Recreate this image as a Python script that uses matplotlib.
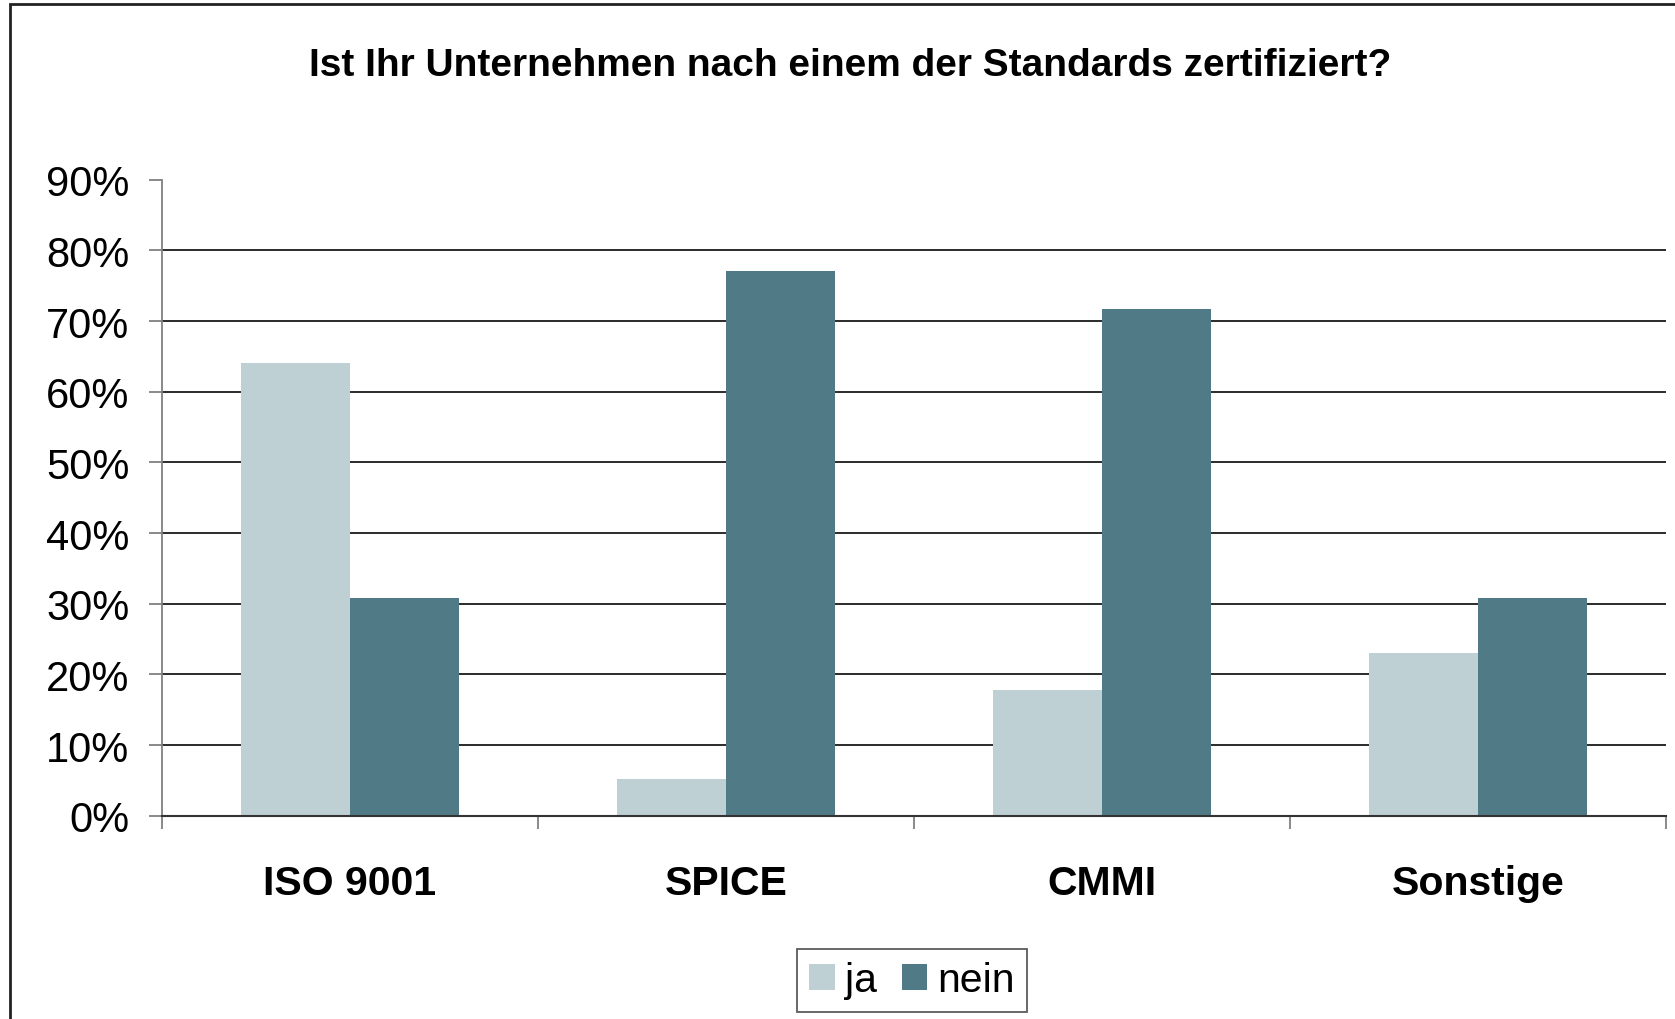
import matplotlib
matplotlib.use("Agg")
import matplotlib.pyplot as plt
from matplotlib.patches import Rectangle
import numpy as np

categories = ["ISO 9001", "SPICE", "CMMI", "Sonstige"]
ja = [0.640, 0.052, 0.178, 0.230]
nein = [0.308, 0.771, 0.717, 0.308]
series_names = ["ja", "nein"]
yticks = [0.0, 0.1, 0.2, 0.3, 0.4, 0.5, 0.6, 0.7, 0.8, 0.9]
ytick_labels = ["0%", "10%", "20%", "30%", "40%", "50%", "60%", "70%", "80%", "90%"]
title = "Ist Ihr Unternehmen nach einem der Standards zertifiziert?"

c_ja = "#BED0D4"
c_nein = "#517A87"

plt.rcParams["font.family"] = ["Liberation Sans", "DejaVu Sans"]

W, H = 1675, 1020
fig = plt.figure(figsize=(W / 100, H / 100), dpi=100)
ax = fig.add_axes([162 / W, 1 - 816.7 / H, (1666 - 162) / W, (816.7 - 180.7) / H])

# outer frame (clipped at right and bottom)
fig.patches.append(Rectangle((10 / W, -0.2), 1.2, 1.2 - 5 / H, transform=fig.transFigure,
                             fill=False, edgecolor="#222222", linewidth=2, clip_on=False))

x = np.arange(len(categories))
w = 0.29
ax.bar(x - w / 2, ja, w, color=c_ja, label=series_names[0], zorder=3)
ax.bar(x + w / 2, nein, w, color=c_nein, label=series_names[1], zorder=3)

ax.set_xlim(-0.5, len(categories) - 0.5)
ax.set_ylim(0, 0.9)

for yv in yticks[1:-1]:
    ax.axhline(yv, color="#1a1a1a", linewidth=1.3, zorder=1)

ax.set_yticks(yticks)
ax.set_yticklabels(ytick_labels, fontsize=30)
ax.tick_params(axis="y", direction="out", length=9.5, width=1.3, color="#808080", pad=14)

ax.set_xticks(x)
ax.set_xticklabels(categories, fontsize=29.5, fontweight="bold")
ax.set_xticks(np.arange(-0.5, len(categories)), minor=True)
ax.tick_params(axis="x", which="major", length=0, pad=35)
ax.tick_params(axis="x", which="minor", direction="out", length=9.5, width=1.3, color="#808080")

for s in ["top", "right"]:
    ax.spines[s].set_visible(False)
ax.spines["left"].set_color("#808080")
ax.spines["left"].set_linewidth(1.3)
ax.spines["bottom"].set_color("#333333")
ax.spines["bottom"].set_linewidth(1.5)
ax.spines["bottom"].set_zorder(4)

fig.text(850 / W, 1 - 66 / H, title, ha="center", va="center", fontsize=28, fontweight="bold")

leg = fig.legend(loc="center", bbox_to_anchor=(912 / W, 1 - 981.5 / H), ncol=2, fontsize=29.5,
                 frameon=True, fancybox=False, edgecolor="#333333", handlelength=0.62,
                 handleheight=0.62, handletextpad=0.25, columnspacing=0.6, borderpad=0.3)
leg.get_frame().set_linewidth(1.3)

fig.savefig("out.png", dpi=100)
